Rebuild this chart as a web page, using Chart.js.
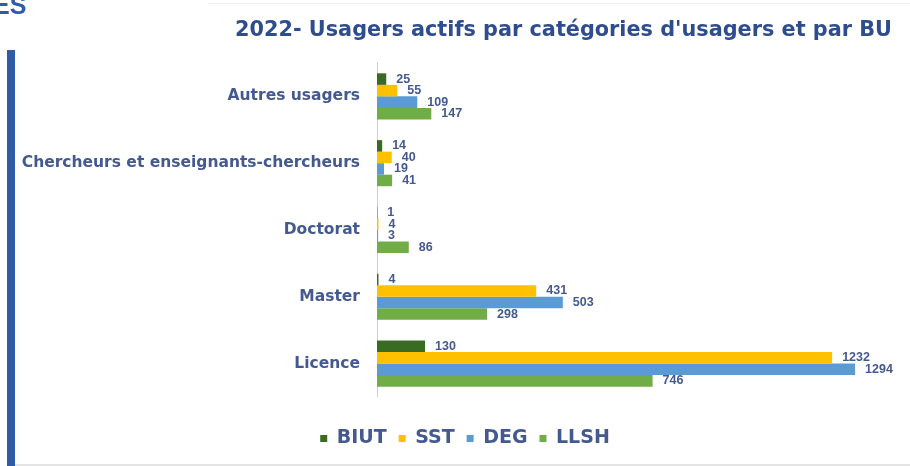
<!DOCTYPE html>
<html>
<head>
<meta charset="utf-8">
<script src="https://cdn.jsdelivr.net/npm/chart.js@4.4.0/dist/chart.umd.min.js"></script>
<style>
  html, body { margin: 0; padding: 0; background: #fff; }
  #wrap { position: relative; width: 910px; height: 466px; overflow: hidden; }
  canvas { position: absolute; left: 0; top: 0; }
  .es { position: absolute; left: -7px; top: -9px; font: bold 25px "Liberation Sans", Arial, sans-serif; color: #2f5ba8; }
  .side { position: absolute; left: 7px; top: 50px; width: 8px; height: 416px; background: #2f5ba8; }
  .rule-bottom { position: absolute; left: 15px; top: 464px; width: 895px; height: 2px; background: #e4e4e4; }
  .rule-top { position: absolute; left: 208px; top: 3px; width: 702px; height: 1px; background: #f1f1f1; }
</style>
</head>
<body>
<div id="wrap">
  <canvas id="chart" width="910" height="466"></canvas>
  <div class="rule-top"></div>
  <div class="es">ES</div>
  <div class="side"></div>
  <div class="rule-bottom"></div>
</div>
<script>
const categories = ['Autres usagers', 'Chercheurs et enseignants-chercheurs', 'Doctorat', 'Master', 'Licence'];
const seriesNames = ['BIUT', 'SST', 'DEG', 'LLSH'];
const biut = [25, 14, 1, 4, 130];
const sst = [55, 40, 4, 431, 1232];
const deg = [109, 19, 3, 503, 1294];
const llsh = [147, 41, 86, 298, 746];

const textBlue = '#44598f';
const bold = (size) => ({ family: 'DejaVu Sans', weight: 'bold', size });

// numbers written just right of each bar end
const valueLabels = {
  id: 'valueLabels',
  afterDatasetsDraw(chart) {
    const ctx = chart.ctx;
    ctx.save();
    ctx.font = 'bold 12.5px "Liberation Sans", Arial, sans-serif';
    ctx.fillStyle = textBlue;
    ctx.textBaseline = 'middle';
    chart.data.datasets.forEach((ds, i) => {
      chart.getDatasetMeta(i).data.forEach((bar, j) => {
        ctx.fillText(ds.data[j], bar.x + 10, bar.y);
      });
    });
    ctx.restore();
  }
};

// legend sits a bit lower and right of where chart.js centres it
const legendNudge = {
  id: 'legendNudge',
  afterLayout(chart) {
    const lg = chart.legend;
    lg.left += 19; lg.right += 19;
    lg.top += 20; lg.bottom += 20;
  }
};

new Chart(document.getElementById('chart'), {
  type: 'bar',
  data: {
    labels: categories,
    datasets: [
      { label: seriesNames[0], data: biut, backgroundColor: '#3a6b22' },
      { label: seriesNames[1], data: sst, backgroundColor: '#ffc000' },
      { label: seriesNames[2], data: deg, backgroundColor: '#5b9bd5' },
      { label: seriesNames[3], data: llsh, backgroundColor: '#70ad47' }
    ]
  },
  options: {
    indexAxis: 'y',
    responsive: false,
    animation: false,
    layout: { padding: { left: 0, right: 18, top: 0, bottom: 28 } },
    datasets: { bar: { categoryPercentage: 0.69, barPercentage: 1 } },
    scales: {
      x: { display: false, min: 0, max: 1394 },
      y: {
        grid: { display: false, drawTicks: false },
        border: { display: true, color: '#cfcfcf' },
        ticks: { padding: 17, color: textBlue, font: bold(15.5) },
        afterFit: (s) => { s.width = 377; }
      }
    },
    plugins: {
      title: {
        display: true,
        text: "2022- Usagers actifs par catégories d'usagers et par BU",
        align: 'end',
        color: '#2e4d8f',
        font: bold(20.8),
        padding: { top: 18, bottom: 20 }
      },
      legend: {
        position: 'bottom',
        labels: { boxWidth: 7, boxHeight: 7, padding: 12, color: textBlue, font: bold(19) }
      },
      tooltip: { enabled: false }
    }
  },
  plugins: [valueLabels, legendNudge]
});
</script>
</body>
</html>
